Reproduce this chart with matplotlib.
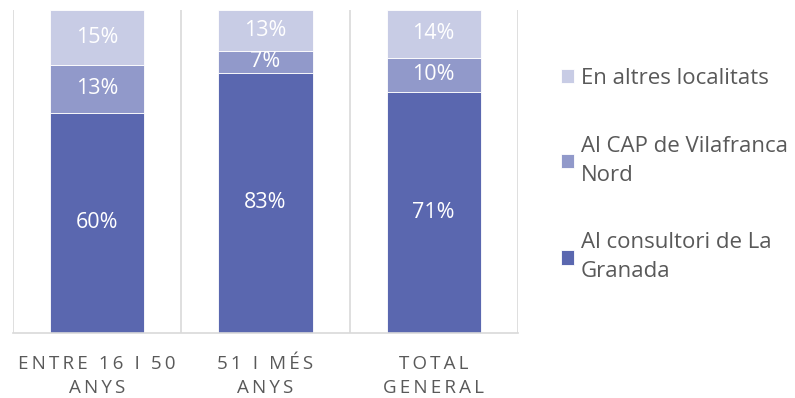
import matplotlib.pyplot as plt
import numpy as np

plt.rcParams['font.family'] = ['Open Sans', 'DejaVu Sans']

categories = ['ENTRE 16 I 50\nANYS', '51 I MÉS\nANYS', 'TOTAL\nGENERAL']
series = ['Al consultori de La\nGranada', 'Al CAP de Vilafranca\nNord', 'En altres localitats']
consultori = [60, 83, 71]
cap = [13, 7, 10]
altres = [15, 13, 14]
colors = ['#5A67AF', '#9199CA', '#C8CCE5']

values = np.array([consultori, cap, altres], dtype=float)
shares = values / values.sum(axis=0) * 100  # 100% stacked, labels show raw values

fig = plt.figure(figsize=(7.95, 3.98), dpi=100)
ax = fig.add_axes([0.0164, 0.163, 0.635, 0.812])

x = np.arange(len(categories))
bottom = np.zeros(len(categories))
for vals, sh, name, col in zip(values, shares, series, colors):
    ax.bar(x, sh, 0.56, bottom=bottom, color=col, label=name, zorder=2,
           edgecolor='white', linewidth=0.6)
    for xi, b, h, v in zip(x, bottom, sh, vals):
        ax.text(xi, b + h / 2, f'{v:.0f}%', ha='center', va='center',
                color='white', fontsize=15.5)
    bottom += sh

ax.set_xlim(-0.5, 2.5)
ax.set_ylim(0, 100)
for b in np.arange(-0.5, len(categories), 1.0):
    ax.axvline(b, color='#D9D9D9', lw=1.2, zorder=1)
for s in ['top', 'right', 'left']:
    ax.spines[s].set_visible(False)
ax.spines['bottom'].set_color('#D9D9D9')
ax.spines['bottom'].set_linewidth(1.2)
ax.set_yticks([])
# letter-spaced category labels
spaced = ['\n'.join('\u2009'.join(line) for line in c.split('\n')) for c in categories]
ax.set_xticks(x, spaced)
ax.tick_params(axis='x', length=0, pad=16, labelsize=13.5, labelcolor='#595959')
for t in ax.get_xticklabels():
    t.set_linespacing(1.4)

h, l = ax.get_legend_handles_labels()
leg = fig.legend(h[::-1], l[::-1], loc='center left', bbox_to_anchor=(0.68, 0.56),
                 frameon=False, fontsize=16, labelspacing=2.1, handlelength=0.6,
                 handleheight=0.6, handletextpad=0.3, labelcolor='#595959')
for t in leg.get_texts():
    t.set_linespacing(1.5)

fig.savefig('out.png', dpi=100)
